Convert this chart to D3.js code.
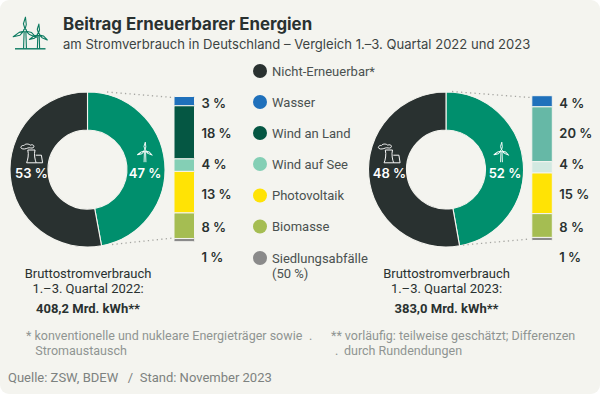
<!DOCTYPE html>
<html><head><meta charset="utf-8">
<script src="https://cdn.jsdelivr.net/npm/d3@7/dist/d3.min.js"></script>
<style>
html,body{margin:0;padding:0;background:#fff}
svg{display:block}
text{font-family:Roboto,sans-serif;white-space:pre}
.h{font-family:Inter,sans-serif}
</style></head><body><svg id="c" width="600" height="394"></svg>
<script>
const categories=["Wasser","Wind an Land","Wind auf See","Photovoltaik","Biomasse","Siedlungsabfälle"];
const legendLabels=["Nicht-Erneuerbar*","Wasser","Wind an Land","Wind auf See","Photovoltaik","Biomasse","Siedlungsabfälle"];
const legendColors=["#293130","#1f70bb","#055743","#84cfb5","#ffe305","#a5bd52","#8a8a8a"];
// ring shares as drawn in the picture: [erneuerbar, nicht-erneuerbar]
const ring2022=[47.1,52.9];
const ring2023=[47.2,52.8];
const ringLabels2022=["47 %","53 %"];
const ringLabels2023=["52 %","48 %"];
// stack segment values as drawn
const stack2022=[3.0,17.2,4.05,13.45,8.27,1.04];
const stack2023=[4.0,19.7,4.05,14.6,8.55,1.1];
const stackLabels2022=["3 %","18 %","4 %","13 %","8 %","1 %"];
const stackLabels2023=["4 %","20 %","4 %","15 %","8 %","1 %"];
const colors2022=["#1f70bb","#055743","#84cfb5","#ffe305","#a5bd52","#8a8a8a"];
const colors2023=["#1f70bb","#66b8a6","#d2e9e1","#ffe305","#a5bd52","#8a8a8a"];
const ringColors=["#008f6d","#293130"];
const bg="#f4f4ef";

const svg=d3.select("#c");
svg.append("rect").attr("width",600).attr("height",394).attr("rx",9).attr("fill",bg);

// title
svg.append("text").attr("class","h").attr("x",63).attr("y",30).attr("font-size",16.85).attr("font-weight",700).attr("fill","#293130").text("Beitrag Erneuerbarer Energien");
svg.append("text").attr("class","h").attr("x",63).attr("y",49).attr("font-size",13.07).attr("fill","#3c4443").text("am Stromverbrauch in Deutschland – Vergleich 1.–3. Quartal 2022 und 2023");

// turbine icon
function turbine(g,x,y,h,col,w){
  const t=g.append("g").attr("transform",`translate(${x},${y})`).attr("fill","none").attr("stroke",col).attr("stroke-width",w).attr("stroke-linejoin","round");
  const l=h*0.74;
  t.append("circle").attr("r",h*0.08);
  [0,120,240].forEach(a=>{
    t.append("path").attr("transform",`rotate(${a+2})`).attr("d",`M0,${-h*0.08}L${-h*0.1},${-l*0.5}L0,${-l}L${h*0.06},${-l*0.45}Z`);
  });
  t.append("path").attr("d",`M${-h*0.05},${h*0.09}L${-h*0.08},${h}M${h*0.05},${h*0.09}L${h*0.08},${h}`);
  return t;
}
const ic=svg.append("g");
turbine(ic,25,30.5,18,"#0c7a60",1.1);
turbine(ic,38.5,34.5,14,"#0c7a60",1.1);
ic.append("line").attr("x1",15).attr("x2",45.5).attr("y1",48.8).attr("y2",48.8).attr("stroke","#0c7a60").attr("stroke-width",1.4);

// plant icon
function plant(g,x,y){
  const t=g.append("g").attr("transform",`translate(${x},${y}) scale(.8)`).attr("fill","none").attr("stroke","#fff").attr("stroke-width",1.2);
  t.append("path").attr("d","M-4,-2.5C-2.5,3,-4,10,-5.5,13.5H6.5C5,10,3.5,3,5,-2.5Z");
  t.append("path").attr("d","M6,4H13L14.5,13.5H6.5");
  t.append("path").attr("d","M-12,-4.5C-14,-6,-11,-9,-9,-8C-7,-11,-2,-10,-1,-8.5C2,-10,5,-8,3,-5.5C1,-4,-2,-6,-4,-5C-6,-4,-10,-3,-12,-4.5Z");
}

const arc=d3.arc().innerRadius(39.5).outerRadius(77.5);
const pie=d3.pie().sort(null).startAngle(0).endAngle(2*Math.PI);

function panel(o){
  const g=svg.append("g");
  const rg=g.append("g").attr("transform",`translate(${o.cx},169.5)`);
  rg.selectAll("path").data(pie(o.ring)).join("path").attr("d",arc)
    .attr("fill",(d,i)=>ringColors[i]).attr("stroke","#f4f4ef").attr("stroke-width",1.1);
  // connectors
  g.selectAll("line.c").data(o.conn).join("line").attr("x1",d=>d[0]).attr("y1",d=>d[1]).attr("x2",d=>d[2]).attr("y2",d=>d[3])
    .attr("stroke","#a6a6a2").attr("stroke-width",1.3).attr("stroke-dasharray","1.3 3.2");
  // stack
  const y=d3.scaleLinear().domain([0,d3.sum(o.stack)]).range(o.yr);
  const st=d3.stack().keys(categories.map((c,i)=>i))([o.stack]);
  g.selectAll("rect.s").data(st).join("rect").attr("x",o.bx).attr("width",20.5)
    .attr("y",d=>y(d[0][0])).attr("height",d=>y(d[0][1])-y(d[0][0]))
    .attr("rx",1).attr("fill",(d,i)=>o.colors[i]).attr("stroke",bg).attr("stroke-width",1);
  // stack labels
  const ly=[107.7,137.8,169,199,231.5,261.7];
  g.selectAll("text.l").data(o.stackLabels).join("text").attr("x",o.bx+27.5).attr("y",(d,i)=>ly[i])
    .attr("class","h").attr("font-size",13).attr("font-weight",600).attr("fill","#293130").text(d=>d);
  // ring labels
  [[o.glx,o.ringLabels[0]],[o.dlx,o.ringLabels[1]]].forEach(([x,t])=>{
    g.append("text").attr("class","h").attr("x",x).attr("y",178.3).attr("text-anchor","middle").attr("font-size",13).attr("font-weight",600).attr("fill","#fff").text(t);
  });
  turbine(g,o.gx,150.7,11.5,"#fff",0.9);
  plant(g,o.dx,152);
  // totals
  const tx=o.tx;
  g.append("text").attr("x",tx).attr("y",277.5).attr("text-anchor","middle").attr("font-size",13).attr("fill","#293130").text("Bruttostromverbrauch");
  g.append("text").attr("x",tx).attr("y",292.8).attr("text-anchor","middle").attr("font-size",13).attr("fill","#293130").text(o.q);
  g.append("text").attr("x",tx).attr("y",312.5).attr("text-anchor","middle").attr("font-size",13).attr("font-weight",700).attr("fill","#293130").text(o.total);
}
panel({cx:87.5,ring:ring2022,stack:stack2022,yr:[96.5,241.7],colors:colors2022,bx:174,stackLabels:stackLabels2022,ringLabels:ringLabels2022,
  gx:145,glx:145,dx:31,dlx:31.5,tx:88,q:"1.–3. Quartal 2022:",total:"408,2 Mrd. kWh**",conn:[[107,92,173,97.5],[112,244.5,173,238]]});
panel({cx:446,ring:ring2023,stack:stack2023,yr:[95.7,240.5],colors:colors2023,bx:531.8,stackLabels:stackLabels2023,ringLabels:ringLabels2023,
  gx:501.5,glx:505,dx:388.5,dlx:389.5,tx:446.5,q:"1.–3. Quartal 2023:",total:"383,0 Mrd. kWh**",conn:[[452,91.5,530,97.5],[463,245,530,239]]});

// legend
const ly=[71,102,133,164,195.5,226.5,258];
const lg=svg.append("g");
lg.selectAll("circle").data(legendColors).join("circle").attr("cx",260).attr("cy",(d,i)=>ly[i]).attr("r",7).attr("fill",d=>d);
lg.selectAll("text").data(legendLabels).join("text").attr("x",272).attr("y",(d,i)=>ly[i]+4.5).attr("font-size",13).attr("fill","#4a5150").text(d=>d);
lg.append("text").attr("x",272).attr("y",277.5).attr("font-size",13).attr("fill","#4a5150").text("(50 %)");

// notes
const notes=[[26,340.3,"* konventionelle und nukleare Energieträger sowie"],[309,340.3,"."],[35.3,354.5,"Stromaustausch"],[331,340.3,"** vorläufig: teilweise geschätzt; Differenzen"],[335,354.5,"."],[344,354.5,"durch Rundendungen"]];
svg.append("g").selectAll("text").data(notes).join("text").attr("x",d=>d[0]).attr("y",d=>d[1]).attr("font-size",12.5).attr("fill","#8f9492").text(d=>d[2]);
svg.append("text").attr("x",8).attr("y",381.5).attr("font-size",13).attr("fill","#7d8280").text("Quelle: ZSW, BDEW   /  Stand: November 2023");
</script></body></html>
